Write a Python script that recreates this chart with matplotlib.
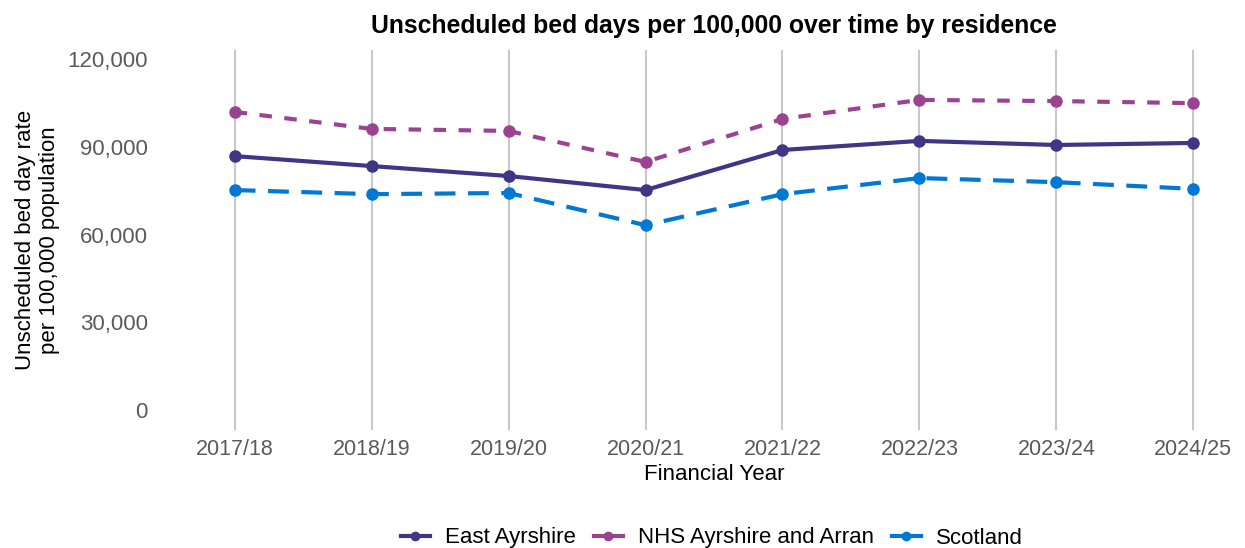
import matplotlib.pyplot as plt
from matplotlib.lines import Line2D
from matplotlib.ticker import FuncFormatter

plt.rcParams['font.family'] = ['Liberation Sans', 'DejaVu Sans']

years = ["2017/18", "2018/19", "2019/20", "2020/21", "2021/22", "2022/23", "2023/24", "2024/25"]
east_ayrshire = [86800, 83400, 80000, 75200, 88900, 92000, 90600, 91300]
nhs_ayrshire = [101900, 96100, 95400, 84800, 99500, 106000, 105600, 104900]
scotland = [75200, 73800, 74200, 63200, 73800, 79300, 77900, 75600]

names = ["East Ayrshire", "NHS Ayrshire and Arran", "Scotland"]
colors = ["#3F3685", "#9B4393", "#0078D4"]

fig = plt.figure(figsize=(12.45, 5.48), dpi=100)
ax = fig.add_axes([0.150, 0.215, 0.847, 0.694])

x = range(len(years))
ax.plot(x, east_ayrshire, color=colors[0], lw=3, marker="o", ms=8)
ax.plot(x, nhs_ayrshire, color=colors[1], lw=3, ls=(0, (3, 3)), marker="o", ms=8)
ax.plot(x, scotland, color=colors[2], lw=3, ls=(0, (5, 3)), marker="o", ms=8)

ax.set_xlim(-0.35, 7.35)
ax.set_ylim(-6840, 123100)
ax.set_yticks([0, 30000, 60000, 90000, 120000])
ax.yaxis.set_major_formatter(FuncFormatter(lambda v, p: f"{int(v):,}"))
ax.set_xticks(list(x))
ax.set_xticklabels(years)

# vertical grid only
ax.grid(axis="x", color="#C8C8C8", lw=1.5)
ax.set_axisbelow(True)
for s in ax.spines.values():
    s.set_visible(False)
ax.tick_params(axis="y", length=0, pad=28, labelsize=16, labelcolor="#5A5A5A")
ax.tick_params(axis="x", length=0, pad=6, labelsize=15.5, labelcolor="#5A5A5A")

ax.set_title("Unscheduled bed days per 100,000 over time by residence",
             fontsize=17.8, fontweight="bold", pad=12)
ax.set_xlabel("Financial Year", fontsize=16, labelpad=3)
ax.set_ylabel("Unscheduled bed day rate\nper 100,000 population", fontsize=16, labelpad=5)

# legend shows solid line + dot for every series
handles = [Line2D([], [], color=c, lw=3, marker="o", ms=6) for c in colors]
fig.legend(handles, names, loc="center", bbox_to_anchor=(712 / 1245, 1 - 538 / 548),
           ncol=3, frameon=False, fontsize=16, handlelength=1.3,
           columnspacing=0.8, handletextpad=0.7)

fig.savefig("out.png", dpi=100)
